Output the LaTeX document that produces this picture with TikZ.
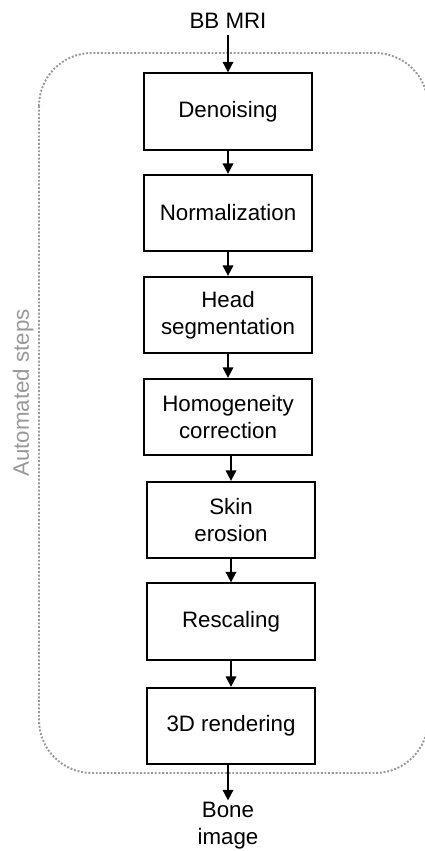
\documentclass[tikz,border=0pt]{standalone}
\usepackage{fontspec}
\setmainfont{Liberation Sans}
\usepackage{tikz}
\usetikzlibrary{positioning, calc, arrows.meta}

\tikzset{
  stepbox/.style={draw, line width=1pt, minimum width=3.36cm, minimum height=1.53cm,
    align=center, inner sep=2pt},
  flow/.style={line width=1pt, -{Triangle[length=0.21cm, width=0.21cm]}}
}

\begin{document}
\begin{tikzpicture}[x=0.02cm, y=-0.02cm, font=\fontsize{12.7}{15.4}\selectfont]
    \useasboundingbox (0,0) rectangle (425,851);
    % dotted frame round the automated part
    \draw[gray!80, densely dotted, line width=1.1pt, rounded corners=1.06cm] (39,53) rectangle (428,773);
    \node[gray!80, rotate=90] (auto) at (23,393) {Automated steps};

    \node (input) at (228,21) {BB MRI};
    \node[stepbox] (denoise) at (228,111.5) {Denoising};
    \node[stepbox] (norm) at (228,213) {Normalization};
    \node[stepbox] (headseg) at (228,315) {Head\\segmentation};
    \node[stepbox] (homog) at (228,417) {Homogeneity\\correction};
    \node[stepbox] (skin) at (231,520) {Skin\\erosion};
    \node[stepbox] (rescale) at (231,621.5) {Rescaling};
    \node[stepbox] (render) at (231,726) {3D rendering};
    \node[align=center, inner sep=1pt] (output) at (228,826) {Bone\\image};

    \draw[flow] (input) -- (denoise);
    \draw[flow] (denoise) -- (norm);
    \draw[flow] (norm) -- (headseg);
    \draw[flow] (headseg) -- (homog);
    \draw[flow] (homog.south -| skin) -- (skin);
    \draw[flow] (skin) -- (rescale);
    \draw[flow] (rescale) -- (render);
    \draw[flow] (render.south -| output) -- (output);
  \end{tikzpicture}
\end{document}
